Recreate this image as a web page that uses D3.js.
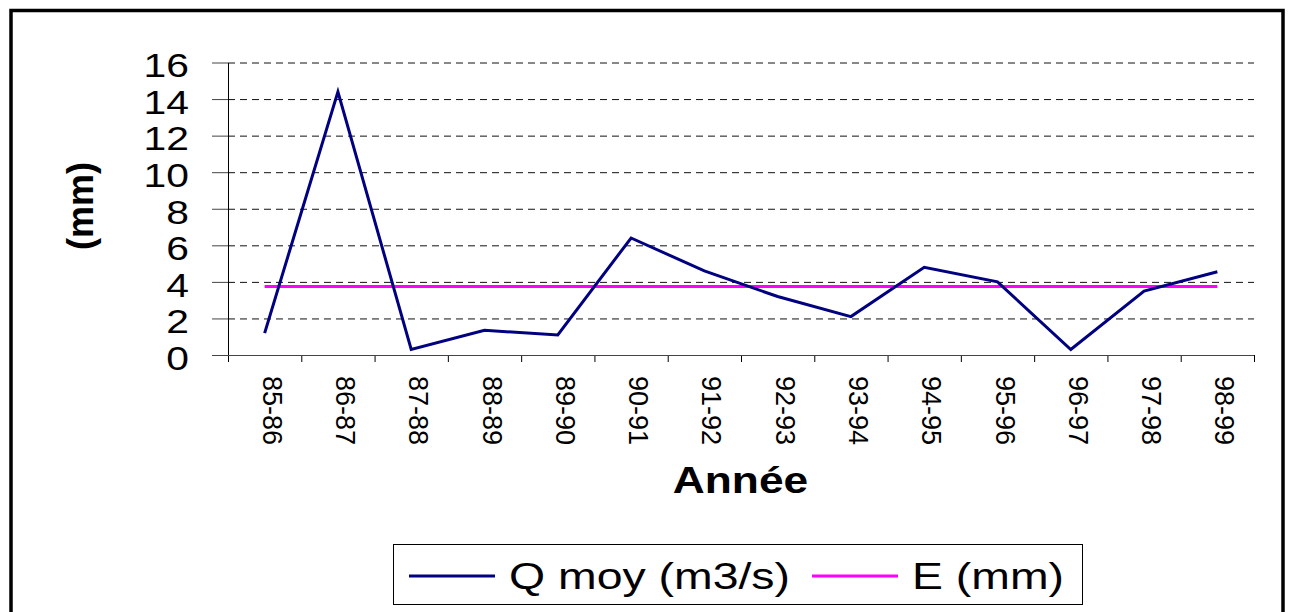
<!DOCTYPE html>
<html>
<head>
<meta charset="utf-8">
<script src="https://cdn.jsdelivr.net/npm/d3@7"></script>
<style>
  html, body { margin: 0; padding: 0; background: #fff; }
  svg { display: block; font-family: "Liberation Sans", Arial, sans-serif; }
</style>
</head>
<body>
<svg id="chart" width="1291" height="612"></svg>
<script>
// ---- data ----
const years = ["85-86","86-87","87-88","88-89","89-90","90-91","91-92","92-93","93-94","94-95","95-96","96-97","97-98","98-99"];
const qMoy  = [1.2, 14.4, 0.3, 1.35, 1.1, 6.4, 4.6, 3.2, 2.1, 4.8, 4.0, 0.3, 3.5, 4.55];
const eMm   = [3.75, 3.75, 3.75, 3.75, 3.75, 3.75, 3.75, 3.75, 3.75, 3.75, 3.75, 3.75, 3.75, 3.75];
const yTicks = [0, 2, 4, 6, 8, 10, 12, 14, 16];
const seriesNames = ["Q moy (m3/s)", "E (mm)"];
const seriesColors = ["#000080", "#FF00FF"];

// ---- layout ----
const svg = d3.select("#chart");
const L = 228, R = 1254, T = 62.5, B = 355;

const x = d3.scaleBand().domain(years).range([L, R]);
const xi = d3.scaleLinear().domain([0, years.length]).range([L, R]);
const y = d3.scaleLinear().domain([0, 16]).range([B, T]);

function fit(sel, factor) {
  sel.each(function() {
    const len = this.getComputedTextLength();
    d3.select(this).attr("textLength", len * factor).attr("lengthAdjust", "spacingAndGlyphs");
  });
}

// outer frame
svg.append("rect").attr("x", 11).attr("y", 10.5).attr("width", 1272).attr("height", 640)
  .attr("fill", "none").attr("stroke", "#000").attr("stroke-width", 3.5);

// gridlines
const grid = svg.append("g").attr("transform", `translate(${L},0)`)
  .call(d3.axisLeft(y).tickValues(yTicks.filter(v => v > 0)).tickSize(-(R - L)).tickFormat(""));
grid.select(".domain").remove();
grid.selectAll(".tick line").attr("stroke", "#111").attr("stroke-dasharray", "7,5").attr("stroke-width", 1);

// y axis
const yAx = svg.append("g").attr("transform", `translate(${L},0)`)
  .call(d3.axisLeft(y).tickValues(yTicks).tickSize(16).tickSizeOuter(0).tickPadding(23));
yAx.select(".domain").attr("stroke", "#000");
yAx.selectAll(".tick line").attr("stroke", "#444");
yAx.selectAll(".tick text").attr("font-size", 34).attr("fill", "#000").attr("dy", "0.42em")
  .call(fit, 1.2);

// x axis (boundary ticks)
const xAx = svg.append("g").attr("transform", `translate(0,${B})`)
  .call(d3.axisBottom(xi).tickValues(d3.range(years.length + 1)).tickSize(7).tickSizeOuter(0).tickFormat(""));
xAx.select(".domain").remove();
xAx.selectAll(".tick line").attr("stroke", "#000");
svg.append("line").attr("x1", L - 16).attr("x2", R).attr("y1", B + 0.5).attr("y2", B + 0.5)
  .attr("stroke", "#444");

// x labels rotated
svg.append("g").selectAll("text").data(years).join("text")
  .attr("transform", d => `translate(${x(d) + x.bandwidth() / 2 - 2},376) rotate(90)`)
  .attr("font-size", 27).attr("fill", "#000").attr("text-anchor", "start")
  .text(d => d);

// series lines
const line = d3.line().x((d, i) => x(years[i]) + x.bandwidth() / 2).y(d => y(d));
svg.append("path").datum(eMm).attr("d", line).attr("fill", "none")
  .attr("stroke", seriesColors[1]).attr("stroke-width", 3);
svg.append("path").datum(qMoy).attr("d", line).attr("fill", "none")
  .attr("stroke", seriesColors[0]).attr("stroke-width", 3).attr("stroke-linejoin", "miter");

// axis titles
svg.append("text").attr("transform", "translate(93,206) rotate(-90)")
  .attr("text-anchor", "middle").attr("font-weight", "bold").attr("font-size", 36)
  .text("(mm)");
svg.append("text").attr("x", 740.5).attr("y", 493).attr("text-anchor", "middle")
  .attr("font-weight", "bold").attr("font-size", 36).text("Année").call(fit, 1.23);

// legend
const lg = svg.append("g");
lg.append("rect").attr("x", 393.5).attr("y", 544.5).attr("width", 689).attr("height", 60)
  .attr("fill", "#fff").attr("stroke", "#000").attr("stroke-width", 1);
const legendItems = [
  { name: seriesNames[0], color: seriesColors[0], x1: 409, x2: 495, tx: 509, tw: 281 },
  { name: seriesNames[1], color: seriesColors[1], x1: 812, x2: 898, tx: 912, tw: 152 }
];
legendItems.forEach(it => {
  lg.append("line").attr("x1", it.x1).attr("x2", it.x2).attr("y1", 576).attr("y2", 576)
    .attr("stroke", it.color).attr("stroke-width", 3);
  lg.append("text").attr("x", it.tx).attr("y", 589).attr("font-size", 36).attr("fill", "#000")
    .attr("textLength", it.tw).attr("lengthAdjust", "spacingAndGlyphs").text(it.name);
});
</script>
</body>
</html>
